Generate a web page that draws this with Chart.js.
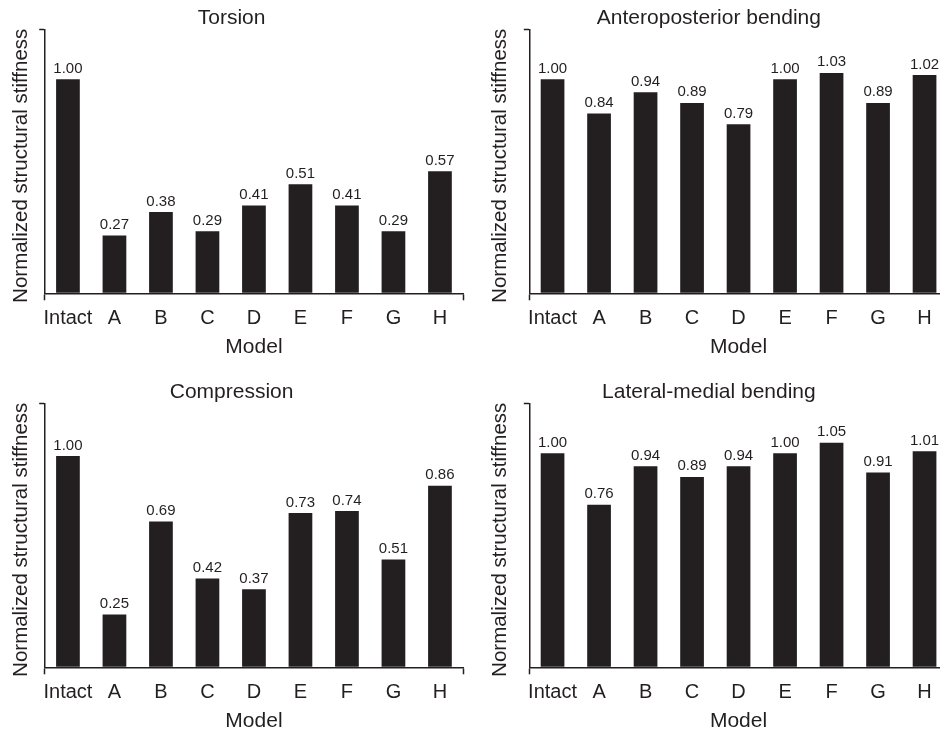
<!DOCTYPE html>
<html><head><meta charset="utf-8">
<script src="https://cdn.jsdelivr.net/npm/chart.js@4/dist/chart.umd.min.js"></script>
<style>
html,body{margin:0;padding:0;background:#fff;overflow:hidden;width:940px;height:733px;position:relative}
canvas{position:absolute;display:block}
</style></head><body>
<canvas id="c0" width="470" height="366" style="left:0;top:0;width:470px;height:366px"></canvas>
<canvas id="c1" width="480" height="366" style="left:470px;top:0;width:480px;height:366px"></canvas>
<canvas id="c2" width="470" height="366" style="left:0;top:374px;width:470px;height:366px"></canvas>
<canvas id="c3" width="480" height="366" style="left:470px;top:374px;width:480px;height:366px"></canvas>
<script>
const categories = ['Intact', 'A', 'B', 'C', 'D', 'E', 'F', 'G', 'H'];
const torsion = [1.00, 0.27, 0.38, 0.29, 0.41, 0.51, 0.41, 0.29, 0.57];
const anteroposterior = [1.00, 0.84, 0.94, 0.89, 0.79, 1.00, 1.03, 0.89, 1.02];
const compression = [1.00, 0.25, 0.69, 0.42, 0.37, 0.73, 0.74, 0.51, 0.86];
const lateralMedial = [1.00, 0.76, 0.94, 0.89, 0.94, 1.00, 1.05, 0.91, 1.01];
const panelTitles = ['Torsion', 'Anteroposterior bending', 'Compression', 'Lateral-medial bending'];
const axisMax = [1.234, 1.234, 1.25, 1.234];
const yTitle = 'Normalized structural stiffness';
const xTitle = 'Model';

const INK = '#231f20';
const FONT = "'Liberation Sans', Arial, Helvetica, sans-serif";
const CLEAR = 'rgba(0,0,0,0)';

const valueLabels = {
  id: 'valueLabels',
  afterDatasetsDraw(chart) {
    const ctx = chart.ctx;
    const meta = chart.getDatasetMeta(0);
    const data = chart.data.datasets[0].data;
    ctx.save();
    ctx.fillStyle = INK;
    ctx.font = '15px ' + FONT;
    ctx.textAlign = 'center';
    ctx.textBaseline = 'alphabetic';
    meta.data.forEach((bar, i) => {
      ctx.fillText(data[i].toFixed(2), bar.x, bar.y - 6.5);
    });
    ctx.restore();
  }
};

const yAxisTitle = {
  id: 'yAxisTitle',
  afterDraw(chart, args, opts) {
    const ctx = chart.ctx;
    const area = chart.chartArea;
    ctx.save();
    ctx.fillStyle = INK;
    ctx.font = '20.5px ' + FONT;
    ctx.textAlign = 'center';
    ctx.textBaseline = 'alphabetic';
    ctx.translate(opts.baselineX, (area.top + area.bottom) / 2 + 4.5);
    ctx.rotate(-Math.PI / 2);
    ctx.fillText(yTitle, 0, 0);
    ctx.restore();
  }
};

function makeChart(id, values, title, max, yW, yBaseline, padRight) {
  new Chart(document.getElementById(id), {
    type: 'bar',
    data: {
      labels: categories,
      datasets: [{ data: values, backgroundColor: INK, borderWidth: 0, barPercentage: 0.51, categoryPercentage: 1 }]
    },
    options: {
      responsive: false,
      animation: false,
      events: [],
      layout: { padding: { left: 0, right: padRight, top: 0, bottom: 0 } },
      plugins: {
        legend: { display: false },
        tooltip: { enabled: false },
        title: {
          display: true, text: title, color: INK,
          font: { family: FONT, size: 21, weight: 'normal', lineHeight: 1 },
          padding: { top: 7.5, bottom: 0.8 }
        },
        yAxisTitle: { baselineX: yBaseline }
      },
      scales: {
        x: {
          offset: true,
          grid: {
            display: true, offset: true, drawOnChartArea: false, drawTicks: true,
            tickLength: 7, tickWidth: 1.5,
            tickColor: (c) => (c.type !== 'tick' || c.index === 0) ? INK : CLEAR
          },
          border: { display: true, color: INK, width: 1.5 },
          ticks: { color: INK, font: { family: FONT, size: 20 }, padding: 6, maxRotation: 0, autoSkip: false },
          title: { display: true, text: xTitle, color: INK, font: { family: FONT, size: 21 }, padding: { top: 0, bottom: 6.4 } },
          afterFit(s) { s.height = 72.7; }
        },
        y: {
          min: 0, max: max,
          afterBuildTicks(s) { s.ticks = [{ value: 0 }, { value: max }]; },
          grid: {
            drawOnChartArea: false, drawTicks: true, tickLength: 5.5, tickWidth: 1.5,
            tickColor: (c) => (c.tick && c.tick.value === 0) ? CLEAR : INK
          },
          border: { display: true, color: INK, width: 1.5 },
          ticks: { display: false },
          title: { display: false },
          afterFit(s) { s.width = yW; }
        }
      }
    },
    plugins: [valueLabels, yAxisTitle]
  });
}

makeChart('c0', torsion, panelTitles[0], axisMax[0], 44.7, 27, 6.8);
makeChart('c1', anteroposterior, panelTitles[1], axisMax[1], 59.3, 36, 2.2);
makeChart('c2', compression, panelTitles[2], axisMax[2], 44.7, 27, 6.8);
makeChart('c3', lateralMedial, panelTitles[3], axisMax[3], 59.3, 36, 2.2);
</script>
</body></html>
